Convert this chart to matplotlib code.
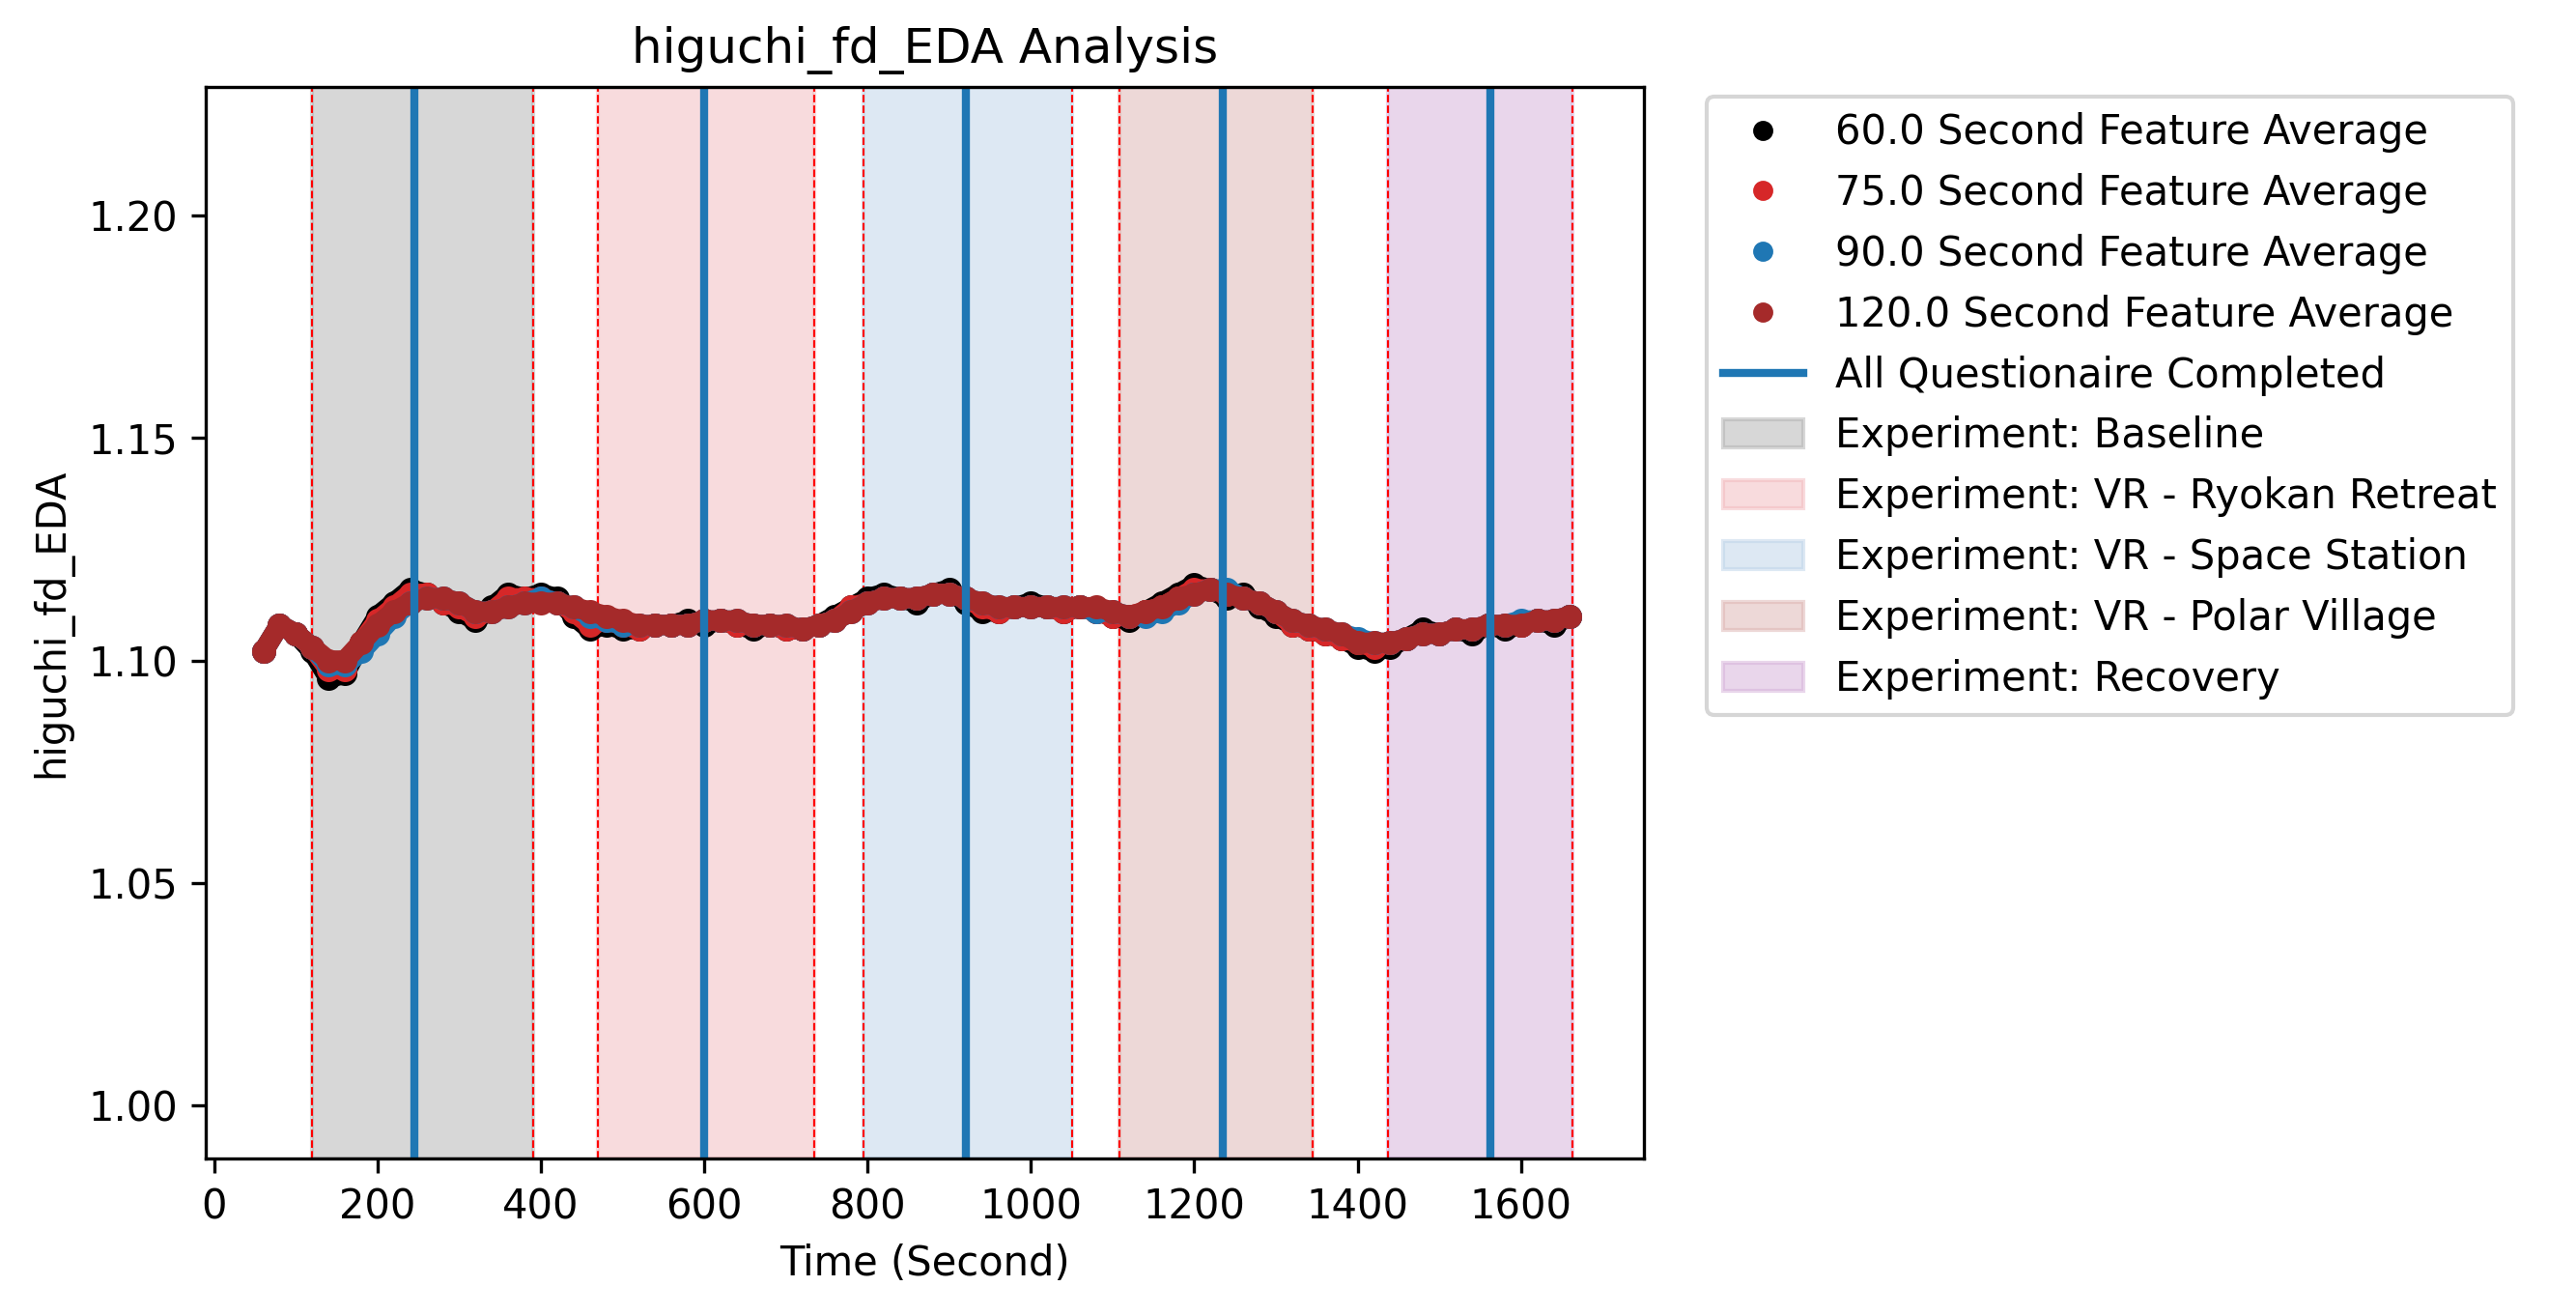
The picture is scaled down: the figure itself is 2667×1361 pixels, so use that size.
import matplotlib
matplotlib.use("Agg")
import matplotlib.pyplot as plt
import numpy as np

t = list(range(60, 1661, 20))
avg120 = [1.102,1.108,1.106,1.103,1.100,1.100,1.104,1.108,1.111,1.113,1.114,1.114,1.113,1.111,1.111,1.112,1.113,1.113,1.113,1.112,
          1.111,1.110,1.109,1.108,1.108,1.108,1.108,1.109,1.109,1.109,1.108,1.108,1.108,1.107,1.108,1.109,1.111,1.113,1.114,1.114,
          1.114,1.115,1.115,1.114,1.113,1.112,1.112,1.112,1.112,1.112,1.112,1.112,1.111,1.110,1.111,1.112,1.114,1.115,1.116,1.115,
          1.114,1.113,1.111,1.109,1.108,1.107,1.106,1.104,1.104,1.104,1.105,1.106,1.106,1.107,1.107,1.108,1.108,1.108,1.109,1.109,1.110]
avg60 = [1.102,1.108,1.106,1.102,1.096,1.097,1.104,1.110,1.113,1.116,1.115,1.113,1.111,1.109,1.112,1.115,1.114,1.115,1.114,1.110,
         1.107,1.108,1.107,1.107,1.108,1.108,1.109,1.108,1.109,1.108,1.107,1.108,1.107,1.107,1.108,1.110,1.112,1.114,1.115,1.114,
         1.113,1.115,1.116,1.113,1.111,1.111,1.112,1.113,1.112,1.111,1.112,1.111,1.110,1.109,1.111,1.113,1.115,1.117,1.116,1.114,
         1.115,1.112,1.110,1.108,1.107,1.106,1.105,1.103,1.102,1.103,1.105,1.107,1.106,1.107,1.106,1.108,1.107,1.108,1.109,1.108,1.110]
avg75 = [1.102,1.108,1.106,1.103,1.098,1.098,1.104,1.109,1.112,1.115,1.115,1.113,1.112,1.110,1.111,1.114,1.114,1.114,1.113,1.111,
         1.108,1.109,1.108,1.107,1.108,1.108,1.108,1.109,1.109,1.108,1.108,1.108,1.107,1.107,1.108,1.109,1.112,1.113,1.114,1.114,
         1.114,1.115,1.115,1.114,1.112,1.111,1.112,1.112,1.112,1.111,1.112,1.111,1.110,1.110,1.111,1.112,1.114,1.116,1.116,1.115,
         1.114,1.113,1.111,1.108,1.107,1.106,1.105,1.104,1.103,1.104,1.105,1.106,1.106,1.107,1.107,1.108,1.108,1.108,1.109,1.109,1.110]
avg90 = [1.102,1.108,1.106,1.103,1.099,1.099,1.102,1.106,1.110,1.113,1.114,1.114,1.113,1.111,1.111,1.112,1.113,1.114,1.113,1.112,
         1.110,1.109,1.108,1.108,1.108,1.108,1.108,1.109,1.109,1.109,1.108,1.108,1.108,1.107,1.108,1.109,1.111,1.113,1.114,1.114,
         1.114,1.115,1.115,1.114,1.113,1.112,1.112,1.112,1.112,1.112,1.112,1.111,1.111,1.110,1.110,1.111,1.113,1.115,1.116,1.116,
         1.114,1.113,1.111,1.109,1.108,1.107,1.106,1.105,1.104,1.104,1.105,1.106,1.106,1.107,1.107,1.108,1.108,1.109,1.109,1.109,1.110]

questionnaire_times = [245, 600, 920, 1235, 1562]
phase_names = ["Baseline", "VR - Ryokan Retreat", "VR - Space Station", "VR - Polar Village", "Recovery"]
phase_start = [120, 470, 795, 1108, 1437]
phase_end = [390, 735, 1050, 1345, 1663]
phase_colors = ["#b0b0b0", "#f2b8bd", "#bcd3e8", "#dcb3b0", "#d4afd9"]

fig = plt.figure(figsize=(2667/300, 1361/300), dpi=300)
ax = fig.add_axes([0.080, 0.119, 0.558, 0.815])

for s, e, c, n in zip(phase_start, phase_end, phase_colors, phase_names):
    ax.axvspan(s, e, color=c, alpha=0.5, label=f"Experiment: {n}")
    ax.axvline(s, color="red", ls="--", lw=0.5)
    ax.axvline(e, color="red", ls="--", lw=0.5)

series = [(avg60, "black", "60.0"), (avg75, "#d62728", "75.0"), (avg90, "#1f77b4", "90.0"), (avg120, "#a52a2a", "120.0")]
handles = []
for vals, c, lab in series:
    ax.plot(t, vals, color=c, lw=5, solid_capstyle="round")
    h, = ax.plot(t, vals, "o", color=c, ms=5, label=f"{lab} Second Feature Average")
    handles.append(h)

for i, q in enumerate(questionnaire_times):
    l = ax.axvline(q, color="#1f77b4", lw=2, label="All Questionaire Completed" if i == 0 else None)
    if i == 0:
        qh = l

ax.set_xlim(-10, 1750)
ax.set_ylim(0.988, 1.229)
ax.set_xticks(range(0, 1601, 200))
ax.set_yticks([1.00, 1.05, 1.10, 1.15, 1.20])
ax.set_title("higuchi_fd_EDA Analysis")
ax.set_xlabel("Time (Second)")
ax.set_ylabel("higuchi_fd_EDA")

h_all, l_all = ax.get_legend_handles_labels()
spans = [h for h, l in zip(h_all, l_all) if l.startswith("Experiment")]
span_labels = [l for l in l_all if l.startswith("Experiment")]
ax.legend(handles + [qh] + spans, [h.get_label() for h in handles] + ["All Questionaire Completed"] + span_labels,
          loc="upper left", bbox_to_anchor=(1.03, 1.01), fontsize=10, markerscale=0.8)

fig.savefig("out.png", dpi=300)
